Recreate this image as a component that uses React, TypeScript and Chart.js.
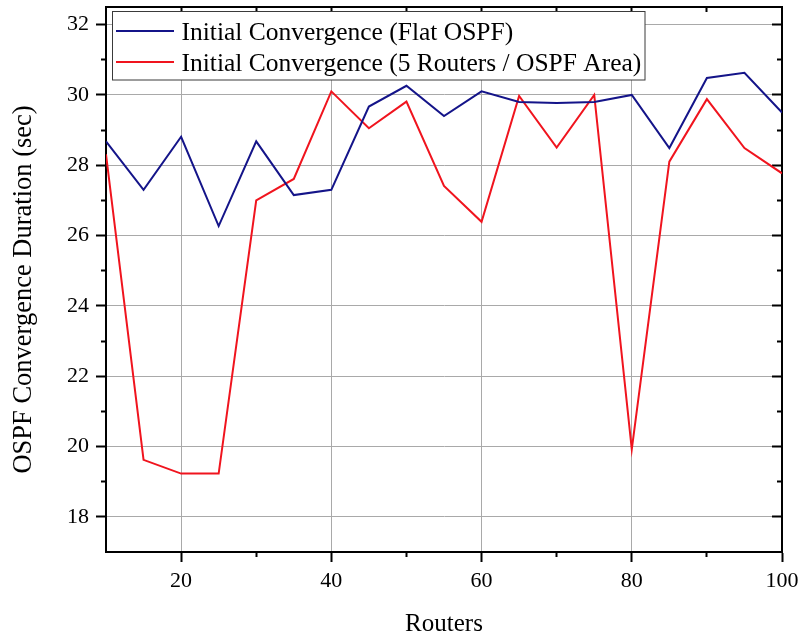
import React, { useEffect, useRef } from 'react';
import { Chart, registerables } from 'chart.js';

Chart.register(...registerables);

// ---- data ----
const routers = [10, 15, 20, 25, 30, 35, 40, 45, 50, 55, 60, 65, 70, 75, 80, 85, 90, 95, 100];
const flatOspf = [28.68, 27.3, 28.81, 26.27, 28.68, 27.15, 27.3, 29.67, 30.26, 29.4, 30.1, 29.8, 29.77, 29.8, 30.0, 28.49, 30.48, 30.63, 29.5];
const areaOspf = [28.31, 19.62, 19.23, 19.23, 27.0, 27.61, 30.1, 29.05, 29.81, 27.41, 26.39, 29.97, 28.5, 30.0, 19.92, 28.1, 29.88, 28.49, 27.77];
const seriesLabels = ['Initial Convergence (Flat OSPF)', 'Initial Convergence (5 Routers / OSPF Area)'];
const xMajorTicks = [20, 40, 60, 80, 100];
const xMinorTicks = [30, 50, 70, 90];
const xTopTicks = [20, 30, 40, 50, 60, 70, 80, 90];
const yMajorTicks = [18, 20, 22, 24, 26, 28, 30, 32];
const yMinorTicks = [19, 21, 23, 25, 27, 29, 31];
const xTitle = 'Routers';
const yTitle = 'OSPF Convergence Duration (sec)';
const xRange = [10, 100];
const yRange = [17, 32.5];

const FONT = '"Liberation Serif", "Times New Roman", serif';
const GRID = '#a9a9a9';
const BLUE = '#141489';
const RED = '#f0141e';

const fixSize = (w?: number, h?: number) => (s: any) => {
  if (w !== undefined) s.width = w;
  if (h !== undefined) s.height = h;
  s.paddingLeft = 0;
  s.paddingRight = 0;
  s.paddingTop = 0;
  s.paddingBottom = 0;
};
const setTicks = (vals: number[]) => (s: any) => {
  s.ticks = vals.map((v) => ({ value: v }));
};

const tickOnly = (
  position: string,
  weight: number,
  range: number[],
  vals: number[],
  len: number,
  horizontal: boolean,
  border: boolean
) => ({
  type: 'linear',
  position,
  weight,
  min: range[0],
  max: range[1],
  afterBuildTicks: setTicks(vals),
  afterFit: horizontal ? fixSize(undefined, 0) : fixSize(0, undefined),
  grid: { display: true, drawOnChartArea: false, drawTicks: true, tickLength: len, tickColor: '#000', tickWidth: 2, color: '#000' },
  border: border ? { display: true, color: '#000', width: 2 } : { display: false },
  ticks: { display: false },
});

const legendBox = {
  id: 'legendBox',
  afterDraw(chart: any) {
    const ctx = chart.ctx;
    ctx.save();
    const x0 = 112.5;
    const y0 = 11.5;
    const w = 532.5;
    const h = 68.5;
    ctx.fillStyle = '#ffffff';
    ctx.fillRect(x0, y0, w, h);
    ctx.strokeStyle = '#3a3a3a';
    ctx.lineWidth = 1;
    ctx.strokeRect(x0, y0, w, h);
    chart.data.datasets.forEach((ds: any, i: number) => {
      const cy = 31 + i * 31;
      ctx.strokeStyle = ds.borderColor;
      ctx.lineWidth = 2;
      ctx.beginPath();
      ctx.moveTo(x0 + 3.5, cy);
      ctx.lineTo(x0 + 61.5, cy);
      ctx.stroke();
      ctx.fillStyle = '#000';
      ctx.font = '25.5px ' + FONT;
      ctx.textBaseline = 'alphabetic';
      ctx.textAlign = 'left';
      ctx.fillText(ds.label, x0 + 69, cy + 9.3);
    });
    ctx.restore();
  },
};

export default function App() {
  const ref = useRef<HTMLCanvasElement>(null);
  useEffect(() => {
    document.body.style.margin = '0';
    const canvas = ref.current;
    if (!canvas) return;
    const chart = new Chart(canvas, {
      type: 'line',
      data: {
        datasets: [
          {
            label: seriesLabels[0],
            data: routers.map((r, i) => ({ x: r, y: flatOspf[i] })),
            borderColor: BLUE,
            backgroundColor: BLUE,
            borderWidth: 2,
            pointRadius: 0,
            tension: 0,
            xAxisID: 'x',
            yAxisID: 'y',
          },
          {
            label: seriesLabels[1],
            data: routers.map((r, i) => ({ x: r, y: areaOspf[i] })),
            borderColor: RED,
            backgroundColor: RED,
            borderWidth: 2,
            pointRadius: 0,
            tension: 0,
            xAxisID: 'x',
            yAxisID: 'y',
          },
        ],
      },
      options: {
        responsive: false,
        animation: false,
        devicePixelRatio: 1,
        layout: { padding: { top: 7, right: 22, left: 0, bottom: 0 } },
        plugins: { legend: { display: false }, tooltip: { enabled: false } },
        scales: {
          x: {
            type: 'linear',
            position: 'bottom',
            weight: 1,
            min: xRange[0],
            max: xRange[1],
            afterBuildTicks: setTicks(xMajorTicks),
            afterFit: fixSize(undefined, 85),
            grid: {
              color: (c: any) => (c.tick && c.tick.value === 100 ? 'rgba(0,0,0,0)' : GRID),
              lineWidth: 1,
              tickColor: '#000',
              tickWidth: 2,
              tickLength: 10,
            },
            border: { display: true, color: '#000', width: 2 },
            ticks: { color: '#000', font: { family: FONT, size: 22, lineHeight: 1.2 }, padding: 6, maxRotation: 0, autoSkip: false },
            title: {
              display: true,
              text: xTitle,
              color: '#000',
              font: { family: FONT, size: 25, lineHeight: 1 },
              padding: { top: 0, bottom: 0 },
            },
          },
          xMinor: tickOnly('bottom', 0, xRange, xMinorTicks, 5, true, false),
          xTop: tickOnly('top', 0, xRange, xTopTicks, -5, true, true),
          y: {
            type: 'linear',
            position: 'left',
            weight: 1,
            min: yRange[0],
            max: yRange[1],
            afterBuildTicks: setTicks(yMajorTicks),
            afterFit: fixSize(106, undefined),
            grid: { color: GRID, lineWidth: 1, tickColor: '#000', tickWidth: 2, tickLength: 10 },
            border: { display: true, color: '#000', width: 2 },
            ticks: { color: '#000', font: { family: FONT, size: 22, lineHeight: 1.2 }, padding: 7 },
            title: {
              display: true,
              text: yTitle + '\u00a0\u00a0\u00a0',
              color: '#000',
              font: { family: FONT, size: 26.5, lineHeight: 1 },
              padding: { top: 11, bottom: 0 },
            },
          },
          yMinor: tickOnly('left', 0, yRange, yMinorTicks, 5, false, false),
          yRight: tickOnly('right', 1, yRange, yMajorTicks, -10, false, true),
          yRightMinor: tickOnly('right', 0, yRange, yMinorTicks, -5, false, false),
        },
      } as any,
      plugins: [legendBox],
    });
    return () => chart.destroy();
  }, []);
  return (
    <div style={{ position: 'absolute', left: 0, top: 0, width: 804, height: 637, background: '#ffffff' }}>
      <canvas ref={ref} width={804} height={637} style={{ display: 'block' }} />
    </div>
  );
}
